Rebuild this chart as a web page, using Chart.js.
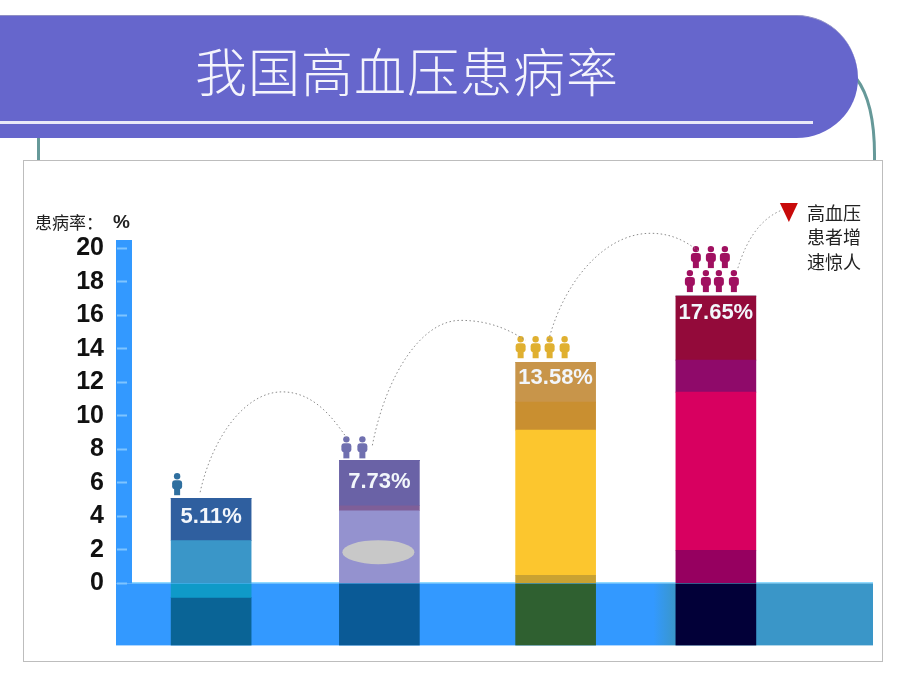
<!DOCTYPE html>
<html>
<head>
<meta charset="utf-8">
<title>我国高血压患病率</title>
<script src="https://cdn.jsdelivr.net/npm/chart.js@4"></script>
<style>
body { margin: 0; background: #fff; width: 920px; height: 690px; overflow: hidden; position: relative; }
#banner { position: absolute; left: 0; top: 15px; width: 858px; height: 123px; background: #6666cc;
  border-top: 1px solid #8f8fc4; box-sizing: border-box; border-radius: 0 62px 62px 0 / 0 64px 60px 0; }
#title { position: absolute; left: 0; top: 15px; width: 814px; height: 110px; line-height: 110px; text-align: center;
  color: #f4f4fc; font: 300 52px/110px "Noto Sans CJK SC"; letter-spacing: 1px; }
#rule { position: absolute; left: 0; top: 121px; width: 813px; height: 3px; background: #e9e9f8; }
#panel { position: absolute; left: 23px; top: 160px; width: 858px; height: 500px; border: 1px solid #bdbdbd; background: #fff; }
#lines { position: absolute; left: 0; top: 0; }
canvas { position: absolute; left: 0; top: 0; }
</style>
</head>
<body>
<svg id="lines" width="920" height="170">
  <path d="M38.5 130V160M856 78C870 96 875 125 874.5 160" fill="none" stroke="#669999" stroke-width="3"/>
</svg>
<div id="banner"></div>
<div id="title">我国高血压患病率</div>
<div id="rule"></div>
<div id="panel"></div>
<canvas id="chart" width="920" height="690"></canvas>

<script>
const years = ['1959', '1979', '1991', '2002'];
const rateLabels = ['5.11%', '7.73%', '13.58%', '17.65%'];
const peopleCount = [1, 2, 4, 7];
const yTicks = [0, 2, 4, 6, 8, 10, 12, 14, 16, 18, 20];

// bands of each bar, from the zero line upward
const band1 = [2.55, 4.33, 0.48, 1.97];
const band2 = [2.53, 0.30, 8.67, 9.45];
const band3 = [0, 2.71, 1.67, 1.91];
const band4 = [0, 0, 2.38, 3.82];
// below the zero line
const under1 = [-0.84, -3.71, -3.71, -3.71];
const under2 = [-2.87, 0, 0, 0];

const band1Colors = ['#3a96c8', '#9492cf', '#c9a232', '#960060'];
const band2Colors = ['#2f5f9f', '#7f5f98', '#fcc62e', '#d80060'];
const band3Colors = ['#2f5f9f', '#6a62a6', '#c98f30', '#8f0a6a'];
const band4Colors = ['#2f5f9f', '#6a62a6', '#c8954a', '#930a3a'];
const under1Colors = ['#0f9ac8', '#0a5a96', '#2f6030', '#020038'];
const under2Colors = ['#0a6496', '#0a5a96', '#2f6030', '#020038'];
const peopleColors = ['#2f6f9f', '#7070b0', '#e0b030', '#a01060'];

// 1991 sits a little right of its even slot in the picture
const slotShift = [0, 0, 8, 0];
const labelDrop = [19, 22, 16, 17];

class SlotScale extends Chart.CategoryScale {
    getPixelForValue(value, index) {
        return super.getPixelForValue(value, index) + (slotShift[value] || 0);
    }
}
SlotScale.id = 'slots';
SlotScale.defaults = Chart.CategoryScale.defaults;
Chart.register(SlotScale);

function person(ctx, x, bottom, color) {
    ctx.fillStyle = color;
    ctx.beginPath();
    ctx.arc(x, bottom - 19, 3.2, 0, Math.PI * 2);
    ctx.fill();
    ctx.beginPath();
    ctx.roundRect(x - 5, bottom - 15, 10, 9, 3);
    ctx.fill();
    ctx.fillRect(x - 3, bottom - 8, 6, 8);
}

function arc(ctx, sx, sy, px, py, ex, ey) {
    ctx.beginPath();
    ctx.moveTo(sx, sy);
    ctx.bezierCurveTo(sx + (px - sx) * 0.15, sy - (sy - py) * 0.55, px - (px - sx) * 0.45, py, px, py);
    ctx.bezierCurveTo(px + (ex - px) * 0.5, py, ex - (ex - px) * 0.2, ey - (ey - py) * 0.4, ex, ey);
    ctx.stroke();
}

const backdrop = {
    id: 'backdrop',
    beforeDraw(chart) {
        const ctx = chart.ctx;
        const y = chart.scales.y;
        const zero = y.getPixelForValue(0);
        const bottom = y.getPixelForValue(y.min);
        const left = chart.chartArea.left - 11;
        // scale column
        ctx.fillStyle = '#3399ff';
        ctx.fillRect(left, chart.chartArea.top, 16, zero - chart.chartArea.top);
        // strip under the zero line
        const grad = ctx.createLinearGradient(left, 0, 873, 0);
        grad.addColorStop(0, '#3399ff');
        grad.addColorStop(0.71, '#3399ff');
        grad.addColorStop(0.74, '#3a96c8');
        grad.addColorStop(1, '#3a96c8');
        ctx.fillStyle = grad;
        ctx.fillRect(left, zero, 873 - left, bottom - zero);
        ctx.fillStyle = '#66ccff';
        ctx.fillRect(left + 16, zero - 1, 873 - left - 16, 1);
    }
};

const notes = {
    id: 'notes',
    afterDatasetsDraw(chart) {
        const ctx = chart.ctx;
        const y = chart.scales.y;
        const bars = chart.getDatasetMeta(3).data;
        const tops = years.map((_, i) => y.getPixelForValue(band1[i] + band2[i] + band3[i] + band4[i]));

        // grey patch on the 1979 bar
        ctx.fillStyle = '#c8c8c8';
        ctx.beginPath();
        ctx.ellipse(bars[1].x - 1, y.getPixelForValue(1.86), 36, 12, 0, 0, Math.PI * 2);
        ctx.fill();

        // values on the bars
        ctx.fillStyle = '#f2f6fb';
        ctx.font = 'bold 22px "Liberation Sans"';
        ctx.textAlign = 'center';
        ctx.textBaseline = 'middle';
        rateLabels.forEach((t, i) => ctx.fillText(t, bars[i].x, tops[i] + labelDrop[i]));

        // little people above the bars
        const rows = [
            [[-34, 3]],
            [[-33, 2], [-17, 2]],
            [[-35, 4], [-20, 4], [-6, 4], [9, 4]],
            [[-20, 28], [-5, 28], [9, 28], [-26, 4], [-10, 4], [3, 4], [18, 4]]
        ];
        rows.forEach((row, i) => {
            row.slice(0, peopleCount[i]).forEach(p => person(ctx, bars[i].x + p[0], tops[i] - p[1], peopleColors[i]));
        });

        // dotted arcs from bar to bar
        ctx.save();
        ctx.strokeStyle = '#8a8a8a';
        ctx.lineWidth = 1;
        ctx.setLineDash([1.5, 2.5]);
        arc(ctx, bars[0].x - 11, tops[0] - 6, bars[0].x + 71, y.getPixelForValue(11.43), bars[1].x - 31, tops[1] - 20);
        arc(ctx, bars[1].x - 7, tops[1] - 15, bars[1].x + 81, y.getPixelForValue(15.7), bars[2].x - 30, tops[2] - 22);
        arc(ctx, bars[2].x - 7, tops[2] - 22, bars[2].x + 95, y.getPixelForValue(20.9), bars[3].x - 16, tops[3] - 44);
        ctx.beginPath();
        ctx.moveTo(bars[3].x + 22, tops[3] - 28);
        ctx.quadraticCurveTo(bars[3].x + 36, tops[3] - 74, bars[3].x + 66, tops[3] - 86);
        ctx.stroke();
        ctx.restore();

        // red marker and its note
        const tx = bars[3].x + 73;
        const ty = tops[3] - 93;
        ctx.fillStyle = '#c80a0a';
        ctx.beginPath();
        ctx.moveTo(tx - 9, ty);
        ctx.lineTo(tx + 9, ty);
        ctx.lineTo(tx, ty + 19);
        ctx.closePath();
        ctx.fill();

        ctx.fillStyle = '#222';
        ctx.font = '18px "Noto Sans CJK SC"';
        ctx.textAlign = 'left';
        ['高血压', '患者增', '速惊人'].forEach((t, i) => ctx.fillText(t, 807, 213 + i * 24.5));

        // axis caption
        ctx.font = '17px "Noto Sans CJK SC"';
        ctx.fillText('患病率：', 35, 223);
        ctx.font = 'bold 19px "Liberation Sans"';
        ctx.fillText('%', 113, 223);
    }
};

new Chart(document.getElementById('chart'), {
    type: 'bar',
    data: {
        labels: years,
        datasets: [
            { data: band1, backgroundColor: band1Colors },
            { data: band2, backgroundColor: band2Colors },
            { data: band3, backgroundColor: band3Colors },
            { data: band4, backgroundColor: band4Colors },
            { data: under1, backgroundColor: under1Colors },
            { data: under2, backgroundColor: under2Colors }
        ]
    },
    options: {
        responsive: false,
        animation: false,
        barThickness: 80,
        layout: { padding: { left: 0, top: 240, right: 120, bottom: 44.6 } },
        plugins: { legend: { display: false }, tooltip: { enabled: false } },
        scales: {
            x: {
                type: 'slots',
                stacked: true,
                z: 1,
                grid: { display: false },
                border: { display: false },
                ticks: { color: '#eef6fb', padding: -33, font: { family: 'Liberation Sans', weight: 'bold', size: 22 } },
                afterFit(scale) { scale.height = 0; }
            },
            y: {
                stacked: true,
                min: -3.71,
                max: 20.5,
                grid: { drawOnChartArea: false, tickLength: 10, tickColor: '#7fc4ff', tickWidth: 2 },
                border: { display: false },
                ticks: { color: '#111', padding: 13, autoSkip: false, font: { family: 'Liberation Sans', weight: 'bold', size: 25 } },
                afterBuildTicks(scale) { scale.ticks = yTicks.map(v => ({ value: v })); },
                afterFit(scale) { scale.width = 127; }
            }
        }
    },
    plugins: [backdrop, notes]
});
</script>
</body>
</html>
